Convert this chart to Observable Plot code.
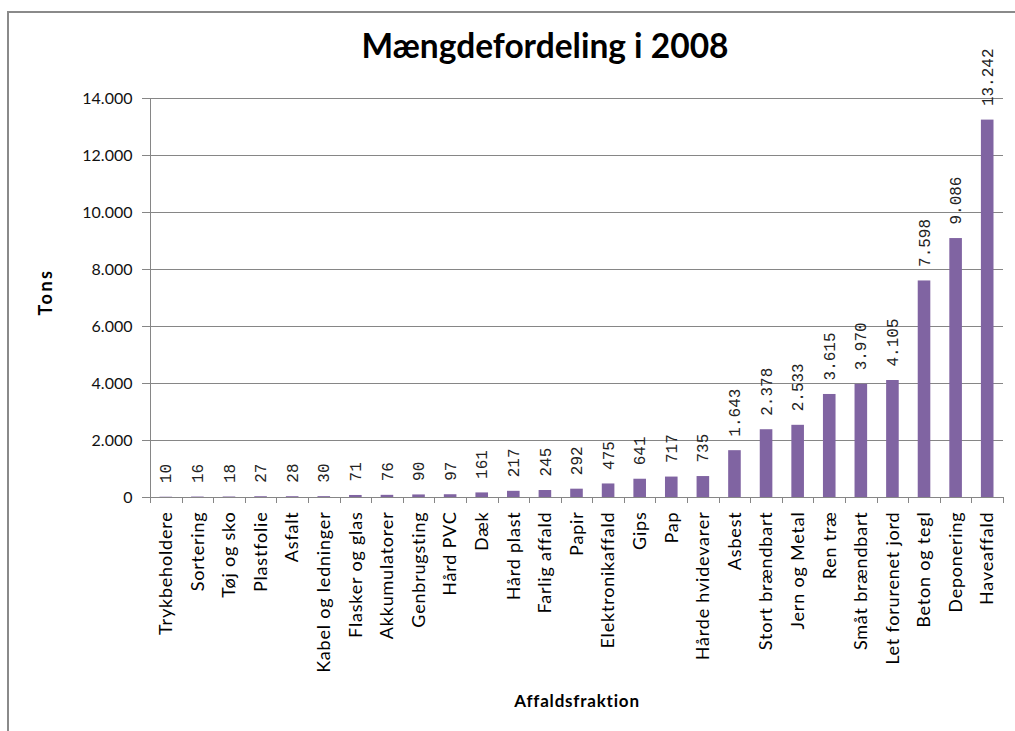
<!DOCTYPE html>
<html>
<head>
<meta charset="utf-8">
<script src="https://cdn.jsdelivr.net/npm/d3@7"></script>
<script src="https://cdn.jsdelivr.net/npm/@observablehq/plot@0.6"></script>
<style>
  html, body { margin: 0; padding: 0; background: #fff; }
  #wrap { position: relative; width: 1015px; height: 731px; overflow: hidden; font-family: Lato, "Open Sans", sans-serif; }
  #frame { position: absolute; left: 7px; top: 11px; width: 1100px; height: 800px; border: 2px solid #8a8a8a; box-sizing: border-box; }
  #title { position: absolute; left: 295px; width: 500px; top: 25px; line-height: 40px; text-align: center; font-size: 33.5px; font-weight: bold; color: #000; }
  #ylab { position: absolute; left: 45px; top: 292px; transform: translate(-50%, -50%) rotate(-90deg); font-size: 18px; letter-spacing: 2.5px; font-weight: bold; color: #000; white-space: nowrap; }
  #xlab { position: absolute; left: 577px; top: 700px; transform: translate(-50%, -50%); font-size: 17px; letter-spacing: 0.8px; font-weight: bold; color: #000; white-space: nowrap; }
  #chart { position: absolute; left: 0; top: 0; }
  g[aria-label="x-axis tick label"] text { letter-spacing: 0.8px; }
</style>
</head>
<body>
<div id="wrap">
  <div id="frame"></div>
  <div id="chart"></div>
  <div id="title">Mængdefordeling i 2008</div>
  <div id="ylab">Tons</div>
  <div id="xlab">Affaldsfraktion</div>
</div>
<script>
const categories = ["Trykbeholdere", "Sortering", "Tøj og sko", "Plastfolie", "Asfalt", "Kabel og ledninger", "Flasker og glas", "Akkumulatorer", "Genbrugsting", "Hård PVC", "Dæk", "Hård plast", "Farlig affald", "Papir", "Elektronikaffald", "Gips", "Pap", "Hårde hvidevarer", "Asbest", "Stort brændbart", "Jern og Metal", "Ren træ", "Småt brændbart", "Let forurenet jord", "Beton og tegl", "Deponering", "Haveaffald"];
const values = [10, 16, 18, 27, 28, 30, 71, 76, 90, 97, 161, 217, 245, 292, 475, 641, 717, 735, 1643, 2378, 2533, 3615, 3970, 4105, 7598, 9086, 13242];
const yTicks = [0, 2000, 4000, 6000, 8000, 10000, 12000, 14000];

const da = d3.formatLocale({decimal: ",", thousands: ".", grouping: [3], currency: ["", " kr."]});
const fmt = da.format(",d");

const data = categories.map((c, i) => ({category: c, tons: values[i]}));
const gray = "#868686";

// boundary ticks of the category axis and the vertical y axis line, from the scales
function axisLines(index, scales) {
  const x = scales.x, y = scales.y;
  const bw = x.bandwidth();
  const doms = x.domain();
  const y0 = y(0), yTop = y(yTicks[yTicks.length - 1]);
  const g = d3.create("svg:g").attr("stroke", gray).attr("stroke-width", 1);
  const x0 = Math.round(x(doms[0])) + 0.5;
  g.append("line").attr("x1", x0).attr("x2", x0).attr("y1", yTop).attr("y2", y0 + 6);
  for (const c of doms) {
    const xx = Math.round(x(c) + bw) + 0.5;
    g.append("line").attr("x1", xx).attr("x2", xx).attr("y1", y0).attr("y2", y0 + 6);
  }
  return g.node();
}

const chart = Plot.plot({
  width: 1015,
  height: 731,
  marginLeft: 150,
  marginRight: 12,
  marginTop: 98,
  marginBottom: 234,
  style: {fontFamily: "Lato, 'Open Sans', sans-serif", fontSize: "16px", color: "#000", background: "transparent", overflow: "visible"},
  x: {domain: categories, padding: 0, round: false, label: null},
  y: {domain: [0, 14000], label: null},
  marks: [
    Plot.ruleY(yTicks.slice(1), {stroke: gray, strokeWidth: 1}),
    Plot.barY(data, {x: "category", y: "tons", fill: "#8064A2", insetLeft: 9.5, insetRight: 9.5}),
    Plot.ruleY([0], {stroke: gray, strokeWidth: 1}),
    axisLines,
    Plot.axisY({ticks: yTicks, tickFormat: fmt, tickSize: 8, tickPadding: 10, stroke: gray, fill: "#111", fontSize: 16, label: null}),
    Plot.axisX({tickSize: 0, tickRotate: -90, tickPadding: 14, fill: "#000", fontSize: 18, label: null}),
    Plot.text(data, {x: "category", y: "tons", text: d => fmt(d.tons), rotate: -90, textAnchor: "start", dy: -14, fontFamily: "'Liberation Mono', monospace", fontSize: 16, fill: "#222"})
  ]
});
document.getElementById("chart").appendChild(chart);
</script>
</body>
</html>
